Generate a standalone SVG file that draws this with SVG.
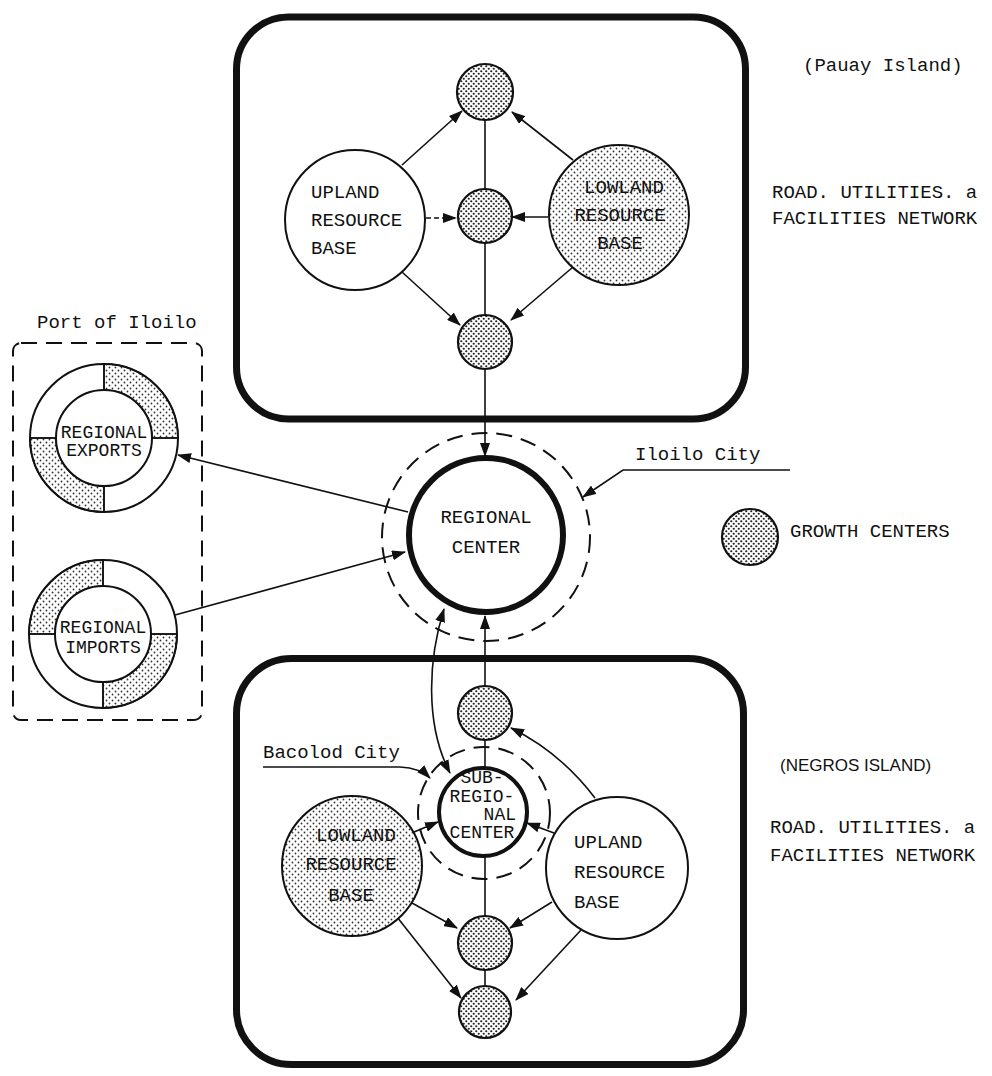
<svg xmlns="http://www.w3.org/2000/svg" width="992" height="1076" viewBox="0 0 992 1076">
<style>
.t{font-family:"Liberation Mono","DejaVu Sans Mono",monospace;font-size:19px;fill:#111}
.ts{font-family:"Liberation Mono","DejaVu Sans Mono",monospace;font-size:18px;fill:#111}
.sans{font-family:"Liberation Sans","DejaVu Sans",sans-serif;font-size:17px;fill:#111}
.mid{text-anchor:middle}
.island{fill:none;stroke:#111;stroke-width:7}
.gc{fill:url(#dense);stroke:#111;stroke-width:2.2}
.res{fill:#fff;stroke:#111;stroke-width:2}
.resl{fill:url(#light);stroke:#111;stroke-width:2}
.ln{fill:none;stroke:#111;stroke-width:1.6}
.arr{fill:none;stroke:#111;stroke-width:1.6;marker-end:url(#ah)}
.dash{fill:none;stroke:#111;stroke-width:2;stroke-dasharray:16 9}
.ring{fill:none;stroke:#111;stroke-width:2}
.seg{fill:url(#light);stroke:#111;stroke-width:1.5}
</style>
<defs>
<pattern id="dense" width="5" height="5" patternUnits="userSpaceOnUse">
<rect width="5" height="5" fill="#fff"/>
<circle cx="1.25" cy="1.25" r="1.1" fill="#222"/>
<circle cx="3.75" cy="3.75" r="1.1" fill="#222"/>
</pattern>
<pattern id="light" width="6" height="6" patternUnits="userSpaceOnUse">
<rect width="6" height="6" fill="#fff"/>
<circle cx="1.5" cy="1.5" r="0.9" fill="#333"/>
<circle cx="4.5" cy="4.5" r="0.9" fill="#333"/>
</pattern>
<marker id="ah" viewBox="0 0 14 10" refX="13" refY="5" markerWidth="14" markerHeight="10" markerUnits="userSpaceOnUse" orient="auto-start-reverse">
<path d="M0,0 L14,5 L0,10 z" fill="#111"/>
</marker>
</defs>
<rect width="992" height="1076" fill="#fff"/>

<g id="pauay-island">
<rect class="island" x="236.5" y="17" width="509" height="402" rx="52"/>
</g>
<g id="negros-island">
<rect class="island" x="236.5" y="658.5" width="507" height="406" rx="55"/>
</g>

<g id="connectors">
<path class="arr" d="M402,165 L462,111"/>
<path class="arr" d="M573,160 L512,112"/>
<path class="arr" d="M426,218 L456,218" stroke-dasharray="5 3"/>
<path class="arr" d="M548,217 L512,217"/>
<path class="arr" d="M402,272 L460,325"/>
<path class="arr" d="M573,267 L511,320"/>
<path class="ln" d="M485,120 L485,189"/>
<path class="ln" d="M485,243 L485,315"/>
<path class="arr" d="M485,369 L485,456"/>
<path class="arr" d="M408,512 L178,455"/>
<path class="arr" d="M175,615 L405,552"/>
<path class="arr" d="M790,470 L623,470 L583,497"/>
<path class="arr" d="M485,686 L485,616"/>
<path class="arr" d="M450,773 C425,725 428,660 444,609" marker-start="url(#ah)"/>
<path class="ln" d="M485,741 L485,768"/>
<path class="ln" d="M485,856 L485,916"/>
<path class="ln" d="M485,970 L485,986"/>
<path class="arr" d="M414,832 L438,822"/>
<path class="arr" d="M554,833 L527,823"/>
<path class="arr" d="M595,798 Q560,752 511,728"/>
<path class="arr" d="M412,903 L457,928"/>
<path class="arr" d="M552,902 L510,928"/>
<path class="arr" d="M397,917 L461,998"/>
<path class="arr" d="M581,930 L516,1000"/>
<path class="arr" d="M263,767 L400,767 Q420,768 430,778"/>
</g>

<g id="top-gc-north"><circle class="gc" cx="485" cy="92" r="28"/></g>
<g id="top-gc-middle"><circle class="gc" cx="485" cy="216" r="27"/></g>
<g id="top-gc-south"><circle class="gc" cx="485" cy="342" r="27"/></g>

<g id="top-upland">
<circle class="res" cx="355" cy="220" r="70"/>
<text class="t" x="311" y="198">UPLAND</text>
<text class="t" x="311" y="226">RESOURCE</text>
<text class="t" x="311" y="254">BASE</text>
</g>
<g id="top-lowland">
<circle class="resl" cx="619" cy="215" r="70"/>
<text class="t mid" x="624" y="193">LOWLAND</text>
<text class="t mid" x="620" y="221">RESOURCE</text>
<text class="t mid" x="620" y="249">BASE</text>
</g>

<g id="regional-center">
<circle class="dash" cx="486" cy="537" r="104"/>
<circle cx="486" cy="535" r="77" fill="#fff" stroke="#111" stroke-width="6"/>
<text class="t mid" x="486" y="523">REGIONAL</text>
<text class="t mid" x="486" y="553">CENTER</text>
</g>

<g id="iloilo-city-label">
<text class="t" x="635" y="460">Iloilo City</text>
</g>

<g id="port-of-iloilo">
<rect class="dash" x="13" y="343" width="189" height="377" rx="8"/>
<text class="t" x="37" y="328">Port of Iloilo</text>
</g>

<g id="regional-exports">
<path class="seg" d="M104,364 A74,74 0 0 1 178,438 L152,438 A48,48 0 0 0 104,390 Z"/>
<path class="seg" d="M104,512 A74,74 0 0 1 30,438 L56,438 A48,48 0 0 0 104,486 Z"/>
<circle class="ring" cx="104" cy="438" r="74"/>
<circle cx="104" cy="438" r="48" fill="#fff" stroke="#111" stroke-width="2"/>
<path class="ln" d="M104,364 L104,390 M178,438 L152,438 M104,512 L104,486 M30,438 L56,438"/>
<text class="ts mid" x="104" y="438">REGIONAL</text>
<text class="ts mid" x="104" y="456">EXPORTS</text>
</g>

<g id="regional-imports">
<path class="seg" d="M29,634 A74,74 0 0 1 103,560 L103,586 A48,48 0 0 0 55,634 Z"/>
<path class="seg" d="M177,634 A74,74 0 0 1 103,708 L103,682 A48,48 0 0 0 151,634 Z"/>
<circle class="ring" cx="103" cy="634" r="74"/>
<circle cx="103" cy="634" r="48" fill="#fff" stroke="#111" stroke-width="2"/>
<path class="ln" d="M103,560 L103,586 M177,634 L151,634 M103,708 L103,682 M29,634 L55,634"/>
<text class="ts mid" x="103" y="633">REGIONAL</text>
<text class="ts mid" x="103" y="653">IMPORTS</text>
</g>

<g id="legend">
<circle class="gc" cx="750" cy="537" r="28"/>
<text class="t" x="790" y="537">GROWTH CENTERS</text>
</g>

<g id="pauay-notes">
<text class="t" x="803" y="71">(Pauay Island)</text>
<text class="t" x="772" y="198">ROAD. UTILITIES. a</text>
<text class="t" x="772" y="224">FACILITIES NETWORK</text>
</g>

<g id="negros-notes">
<text class="sans" x="780" y="771">(NEGROS ISLAND)</text>
<text class="t" x="770" y="833">ROAD. UTILITIES. a</text>
<text class="t" x="770" y="861">FACILITIES NETWORK</text>
</g>

<g id="bot-gc-north"><circle class="gc" cx="485" cy="713" r="27"/></g>
<g id="bot-gc-middle"><circle class="gc" cx="485" cy="943" r="27"/></g>
<g id="bot-gc-south"><circle class="gc" cx="485" cy="1012" r="26"/></g>

<g id="sub-regional-center">
<circle class="dash" cx="484" cy="813" r="66" stroke-dasharray="14 8"/>
<circle cx="483" cy="812" r="44" fill="#fff" stroke="#111" stroke-width="4"/>
<text class="ts mid" x="482" y="783">SUB-</text>
<text class="ts mid" x="482" y="802">REGIO-</text>
<text class="ts" x="516" y="820" text-anchor="end">NAL</text>
<text class="ts mid" x="482" y="838">CENTER</text>
</g>

<g id="bacolod-city-label">
<text class="t" x="263" y="758">Bacolod City</text>
</g>

<g id="bot-lowland">
<circle class="resl" cx="352" cy="866" r="70"/>
<text class="t mid" x="356" y="841">LOWLAND</text>
<text class="t mid" x="351" y="870">RESOURCE</text>
<text class="t mid" x="351" y="901">BASE</text>
</g>
<g id="bot-upland">
<circle class="res" cx="617" cy="868" r="71"/>
<text class="t" x="574" y="848">UPLAND</text>
<text class="t" x="574" y="878">RESOURCE</text>
<text class="t" x="574" y="908">BASE</text>
</g>
</svg>
